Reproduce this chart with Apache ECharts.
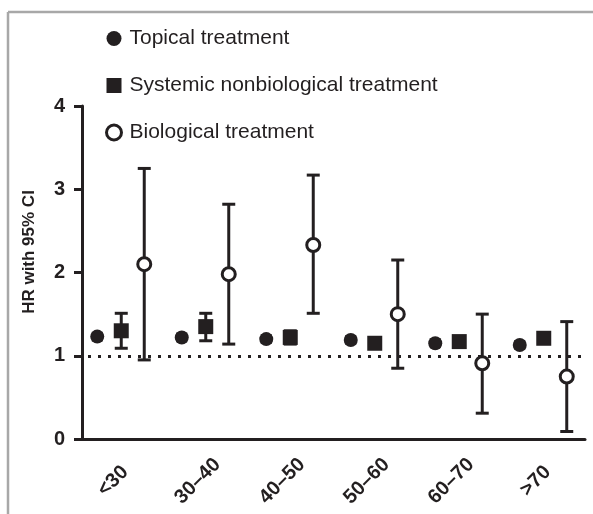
<!DOCTYPE html>
<html>
<head>
<meta charset="utf-8">
<script src="https://cdn.jsdelivr.net/npm/echarts@6/dist/echarts.min.js"></script>
<style>
html,body{margin:0;padding:0;background:#fff;}
#chart{width:593px;height:514px;}
</style>
</head>
<body>
<div id="chart"></div>
<script>
var categories = ['<30', '30–40', '40–50', '50–60', '60–70', '>70'];
var yTicks = [0, 1, 2, 3, 4];

var topicalHR = [1.23, 1.22, 1.20, 1.19, 1.15, 1.13];
var topicalLo = [1.19, 1.18, 1.16, 1.15, 1.11, 1.09];
var topicalHi = [1.27, 1.26, 1.24, 1.23, 1.19, 1.17];

var systemicHR = [1.30, 1.35, 1.22, 1.15, 1.17, 1.21];
var systemicLo = [1.09, 1.18, 1.14, 1.10, 1.12, 1.16];
var systemicHi = [1.51, 1.51, 1.30, 1.20, 1.22, 1.26];

var biologicalHR = [2.10, 1.98, 2.33, 1.50, 0.91, 0.75];
var biologicalLo = [0.95, 1.14, 1.51, 0.85, 0.31, 0.09];
var biologicalHi = [3.25, 2.82, 3.17, 2.15, 1.50, 1.41];

var names = ['Topical treatment', 'Systemic nonbiological treatment', 'Biological treatment'];
var ink = '#231f20';
var font = "'Liberation Sans', Arial, Helvetica, sans-serif";

function pts(vals) { return vals.map(function (v, i) { return [i, v]; }); }
function ci(lo, hi) { return lo.map(function (v, i) { return [i, v, hi[i]]; }); }

function errorBar(offset, capW) {
  return function (params, api) {
    var top = api.coord([api.value(0), api.value(2)]);
    var bot = api.coord([api.value(0), api.value(1)]);
    var x = top[0] + offset;
    var st = { stroke: ink, lineWidth: 3, fill: null };
    return {
      type: 'group',
      children: [
        { type: 'line', shape: { x1: x, y1: top[1], x2: x, y2: bot[1] }, style: st },
        { type: 'line', shape: { x1: x - capW / 2, y1: top[1], x2: x + capW / 2, y2: top[1] }, style: st },
        { type: 'line', shape: { x1: x - capW / 2, y1: bot[1], x2: x + capW / 2, y2: bot[1] }, style: st }
      ]
    };
  };
}

var chart = echarts.init(document.getElementById('chart'));
chart.setOption({
  animation: false,
  backgroundColor: '#fff',
  textStyle: { fontFamily: font },
  graphic: [
    { type: 'line', shape: { x1: 8, y1: 12, x2: 593, y2: 12 }, style: { stroke: '#a8a8a8', lineWidth: 2.5 } },
    { type: 'line', shape: { x1: 8, y1: 12, x2: 8, y2: 514 }, style: { stroke: '#a8a8a8', lineWidth: 2.5 } },
    { type: 'text', x: 29, y: 252, rotation: Math.PI / 2,
      style: { text: 'HR with 95% CI', font: 'bold 17px ' + font, fill: ink, textAlign: 'center', textVerticalAlign: 'middle' } }
  ],
  legend: {
    orient: 'vertical',
    left: 105,
    top: 28,
    padding: 0,
    itemWidth: 15,
    itemHeight: 15,
    itemGap: 26,
    textStyle: { fontSize: 21, color: ink, fontFamily: font, padding: [0, 0, 0, 3] },
    data: [
      { name: names[0] },
      { name: names[1] },
      { name: names[2], itemStyle: { color: '#fff', borderColor: ink, borderWidth: 3 } }
    ]
  },
  grid: { left: 78, right: 8, top: 106, bottom: 75 },
  xAxis: {
    type: 'category',
    data: categories,
    boundaryGap: true,
    axisLine: { lineStyle: { color: ink, width: 3 } },
    axisTick: { alignWithLabel: true, length: 8, lineStyle: { color: ink, width: 3 } },
    axisLabel: { rotate: 45, margin: 35, align: 'center', verticalAlign: 'middle', padding: [0, 20, 0, 0], fontSize: 20, fontWeight: 'bold', color: ink, fontFamily: font, interval: 0 },
    splitLine: { show: false }
  },
  yAxis: {
    type: 'value',
    min: yTicks[0],
    max: yTicks[yTicks.length - 1],
    interval: 1,
    offset: -4,
    axisLine: { show: true, lineStyle: { color: ink, width: 3 } },
    axisTick: { show: true, length: 8, lineStyle: { color: ink, width: 3 } },
    axisLabel: { margin: 17, fontSize: 20, fontWeight: 'bold', color: ink, fontFamily: font },
    splitLine: { show: false }
  },
  series: [
    { type: 'custom', name: 'ciTopical', data: ci(topicalLo, topicalHi), renderItem: errorBar(-23, 11), z: 1, silent: true },
    { type: 'custom', name: 'ciSystemic', data: ci(systemicLo, systemicHi), renderItem: errorBar(1, 13), z: 1, silent: true },
    { type: 'custom', name: 'ciBiological', data: ci(biologicalLo, biologicalHi), renderItem: errorBar(24, 13), z: 1, silent: true },
    {
      type: 'scatter', name: names[0], data: pts(topicalHR), symbol: 'circle', symbolSize: 14,
      symbolOffset: [-23, 0], itemStyle: { color: ink, opacity: 1 }, z: 3,
      markLine: {
        silent: true, symbol: 'none', label: { show: false },
        lineStyle: { color: ink, width: 3, type: [3, 7] },
        data: [{ yAxis: 1 }]
      }
    },
    {
      type: 'scatter', name: names[1], data: pts(systemicHR), symbol: 'rect', symbolSize: 15,
      symbolOffset: [1, 0], itemStyle: { color: ink, opacity: 1 }, z: 3
    },
    {
      type: 'scatter', name: names[2], data: pts(biologicalHR), symbol: 'circle', symbolSize: 13,
      symbolOffset: [24, 0], itemStyle: { color: '#fff', borderColor: ink, borderWidth: 3, opacity: 1 }, z: 3
    }
  ]
});
</script>
</body>
</html>
